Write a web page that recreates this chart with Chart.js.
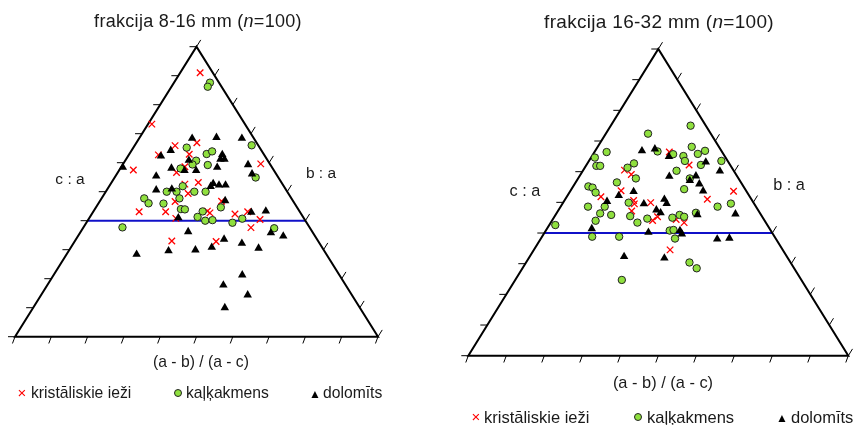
<!DOCTYPE html>
<html>
<head>
<meta charset="utf-8">
<script src="https://cdn.jsdelivr.net/npm/chart.js@4/dist/chart.umd.min.js"></script>
<style>
body { margin: 0; background: #fff; width: 855px; height: 425px; position: relative; overflow: hidden;
       font-family: Arial, "Liberation Sans", sans-serif; color: #1a1a1a; }
canvas { position: absolute; top: 0; }
.t { position: absolute; white-space: nowrap; transform: translate(-50%, -50%); }
.lg { position: absolute; white-space: nowrap; transform: translateY(-50%); }
.mk { position: absolute; transform: translate(-50%, -50%); line-height: 1; }
.dot { width: 6px; height: 6px; border-radius: 50%; background: #8fe03e; border: 1px solid #222; }
</style>
</head>
<body>
<canvas id="left" width="430" height="425" style="left:0"></canvas>
<canvas id="right" width="425" height="425" style="left:430px"></canvas>

<div class="t" style="left:198px;top:21px;font-size:18px;letter-spacing:0.3px">frakcija 8-16 mm (<i>n</i>=100)</div>
<div class="t" style="left:659px;top:22px;font-size:19px;letter-spacing:0.3px">frakcija 16-32 mm (<i>n</i>=100)</div>
<div class="t" style="left:70px;top:179px;font-size:15.5px">c : a</div>
<div class="t" style="left:321px;top:173px;font-size:15.5px">b : a</div>
<div class="t" style="left:525px;top:190px;font-size:16.3px">c : a</div>
<div class="t" style="left:789px;top:184px;font-size:16.3px">b : a</div>
<div class="t" style="left:201px;top:362px;font-size:15.7px">(a - b) / (a - c)</div>
<div class="t" style="left:663px;top:382px;font-size:16.4px">(a - b) / (a - c)</div>
<div id="legends"></div>

<script>
// series names (legend order)
const groupNames = ['kristāliskie ieži', 'kaļķakmens', 'dolomīts'];
// tick steps along each side of the triangle
const axisSteps = [0, 0.1, 0.2, 0.3, 0.4, 0.5, 0.6, 0.7, 0.8, 0.9, 1];
// c:a level of the blue line
const limitCA = 0.4;

// [x in triangle, c:a]  - fraction 8-16 mm
const krist816 = [[0.510,0.910],[0.377,0.733],[0.441,0.659],[0.501,0.669],[0.395,0.627],[0.480,0.629],
  [0.326,0.575],[0.677,0.596],[0.445,0.566],[0.468,0.586],[0.505,0.532],[0.468,0.526],[0.477,0.494],
  [0.441,0.466],[0.342,0.431],[0.415,0.431],[0.569,0.467],[0.530,0.433],[0.537,0.427],[0.606,0.423],
  [0.641,0.431],[0.675,0.404],[0.443,0.408],[0.650,0.376],[0.432,0.330],[0.554,0.328]];
const kalk816 = [[0.537,0.876],[0.531,0.862],[0.473,0.652],[0.528,0.630],[0.543,0.639],[0.652,0.660],
  [0.499,0.607],[0.489,0.594],[0.531,0.592],[0.456,0.580],[0.663,0.549],[0.462,0.519],[0.418,0.500],
  [0.445,0.500],[0.494,0.500],[0.525,0.500],[0.356,0.477],[0.368,0.460],[0.409,0.459],[0.453,0.477],
  [0.457,0.440],[0.468,0.439],[0.567,0.446],[0.517,0.432],[0.503,0.413],[0.524,0.400],[0.544,0.402],
  [0.599,0.393],[0.626,0.407],[0.296,0.377],[0.714,0.374]];
const dolo816 = [[0.488,0.684],[0.555,0.687],[0.625,0.684],[0.429,0.642],[0.402,0.623],[0.571,0.628],
  [0.566,0.612],[0.577,0.612],[0.479,0.608],[0.642,0.593],[0.297,0.584],[0.431,0.581],[0.467,0.573],
  [0.499,0.573],[0.557,0.584],[0.653,0.561],[0.389,0.554],[0.546,0.528],[0.562,0.523],[0.580,0.523],
  [0.539,0.518],[0.389,0.506],[0.432,0.509],[0.579,0.469],[0.651,0.429],[0.691,0.433],[0.450,0.410],
  [0.477,0.362],[0.576,0.336],[0.625,0.322],[0.542,0.308],[0.497,0.299],[0.423,0.296],[0.335,0.284],
  [0.671,0.305],[0.705,0.358],[0.739,0.347],[0.626,0.213],[0.574,0.178],[0.641,0.144],[0.578,0.100]];

// [x in triangle, c:a]  - fraction 16-32 mm
const krist1632 = [[0.529,0.664],[0.581,0.622],[0.411,0.605],[0.429,0.591],[0.402,0.538],[0.349,0.518],
  [0.435,0.506],[0.437,0.495],[0.480,0.499],[0.430,0.472],[0.498,0.453],[0.485,0.441],[0.547,0.444],
  [0.568,0.434],[0.629,0.510],[0.698,0.536],[0.531,0.345]];
const kalk1632 = [[0.585,0.750],[0.473,0.724],[0.364,0.664],[0.333,0.646],[0.337,0.619],[0.347,0.619],
  [0.498,0.666],[0.539,0.657],[0.566,0.651],[0.570,0.635],[0.588,0.681],[0.604,0.658],[0.623,0.668],
  [0.612,0.622],[0.666,0.635],[0.436,0.627],[0.419,0.613],[0.441,0.578],[0.548,0.603],[0.391,0.565],
  [0.316,0.552],[0.327,0.548],[0.335,0.532],[0.583,0.578],[0.568,0.543],[0.315,0.486],[0.359,0.486],
  [0.347,0.464],[0.376,0.459],[0.335,0.440],[0.426,0.455],[0.422,0.499],[0.445,0.434],[0.471,0.447],
  [0.537,0.450],[0.556,0.459],[0.568,0.453],[0.599,0.466],[0.656,0.486],[0.691,0.496],[0.229,0.426],
  [0.530,0.408],[0.540,0.410],[0.544,0.382],[0.326,0.388],[0.397,0.388],[0.582,0.304],[0.601,0.285],
  [0.404,0.247]];
const dolo1632 = [[0.457,0.668],[0.491,0.674],[0.528,0.649],[0.625,0.631],[0.662,0.602],[0.529,0.585],
  [0.583,0.571],[0.599,0.586],[0.608,0.560],[0.435,0.535],[0.618,0.537],[0.396,0.522],[0.365,0.503],
  [0.462,0.495],[0.516,0.510],[0.522,0.496],[0.495,0.475],[0.506,0.466],[0.603,0.459],[0.703,0.462],
  [0.325,0.414],[0.474,0.402],[0.557,0.408],[0.562,0.397],[0.655,0.380],[0.687,0.383],[0.410,0.323],
  [0.516,0.318]];

const toPoints = arr => arr.map(p => ({ x: p[0], y: p[1] }));

// triangle outline, ticks and the c:a = 0.4 line, drawn through the scales
const framePlugin = {
  id: 'frame',
  beforeDatasetsDraw(chart) {
    const { ctx } = chart;
    const sx = chart.scales.x, sy = chart.scales.y;
    const px = (a, b) => [sx.getPixelForValue(a), sy.getPixelForValue(b)];
    const seg = (p, q) => { ctx.beginPath(); ctx.moveTo(p[0], p[1]); ctx.lineTo(q[0], q[1]); ctx.stroke(); };
    const A = px(0, 0), B = px(0.5, 1), C = px(1, 0);

    ctx.save();
    ctx.strokeStyle = '#1010c8';
    ctx.lineWidth = 2;
    seg(px(limitCA / 2, limitCA), px(1 - limitCA / 2, limitCA));

    ctx.strokeStyle = '#000';
    ctx.lineJoin = 'miter';
    ctx.beginPath();
    ctx.moveTo(A[0], A[1]); ctx.lineTo(B[0], B[1]); ctx.lineTo(C[0], C[1]); ctx.closePath();
    ctx.stroke();

    const len = Math.hypot(B[0] - A[0], B[1] - A[1]);
    const dx = (B[0] - A[0]) / len * 8, dy = (B[1] - A[1]) / len * 8;
    ctx.lineWidth = 1;
    axisSteps.forEach(s => {
      let p = px(s / 2, s);
      seg(p, [p[0] - 7, p[1]]);
      p = px(1 - s / 2, s);
      seg(p, [p[0] + dx, p[1] + dy]);
      p = px(s, 0);
      seg(p, [p[0] - dx * 0.6, p[1] - dy]);
    });
    ctx.restore();
  }
};

function makeChart(id, pad, sets) {
  return new Chart(document.getElementById(id), {
    type: 'scatter',
    data: {
      datasets: [
        { label: groupNames[0], data: toPoints(sets[0]), pointStyle: 'crossRot', radius: 4.6,
          borderColor: '#ff0000', backgroundColor: '#ff0000', borderWidth: 1.3, order: 3, clip: false },
        { label: groupNames[1], data: toPoints(sets[1]), pointStyle: 'circle', radius: 3.7,
          borderColor: '#222', backgroundColor: '#8fe03e', borderWidth: 1, order: 2, clip: false },
        { label: groupNames[2], data: toPoints(sets[2]), pointStyle: 'triangle', radius: 4.9,
          borderColor: '#000', backgroundColor: '#000', borderWidth: 0, order: 1, clip: false }
      ]
    },
    options: {
      responsive: false,
      animation: false,
      layout: { padding: pad },
      plugins: { legend: { display: false }, tooltip: { enabled: false } },
      scales: {
        x: { type: 'linear', min: 0, max: 1, display: false },
        y: { type: 'linear', min: 0, max: 1, display: false }
      }
    },
    plugins: [framePlugin]
  });
}

makeChart('left', { left: 15, right: 52, top: 46.7, bottom: 88.3 }, [krist816, kalk816, dolo816]);
makeChart('right', { left: 38.3, right: 6.7, top: 49, bottom: 69.3 }, [krist1632, kalk1632, dolo1632]);

// legends below each triangle
const legendRows = [
  { y: 393, size: 15.7, marks: [22, 178, 315], texts: [31, 186, 323] },
  { y: 416.5, size: 16.5, marks: [476, 638, 782], texts: [484, 647, 791] }
];
const markHtml = [
  '<span style="color:#ff0000;font-size:15px">×</span>',
  '<div class="dot"></div>',
  '<span style="font-size:12px;color:#000">▲</span>'
];
const box = document.getElementById('legends');
legendRows.forEach(row => {
  groupNames.forEach((name, i) => {
    const m = document.createElement('div');
    m.className = 'mk';
    m.style.left = row.marks[i] + 'px';
    m.style.top = row.y + 'px';
    m.innerHTML = markHtml[i];
    box.appendChild(m);
    const t = document.createElement('div');
    t.className = 'lg';
    t.style.left = row.texts[i] + 'px';
    t.style.top = row.y + 'px';
    t.style.fontSize = row.size + 'px';
    t.textContent = name;
    box.appendChild(t);
  });
});
</script>
</body>
</html>
